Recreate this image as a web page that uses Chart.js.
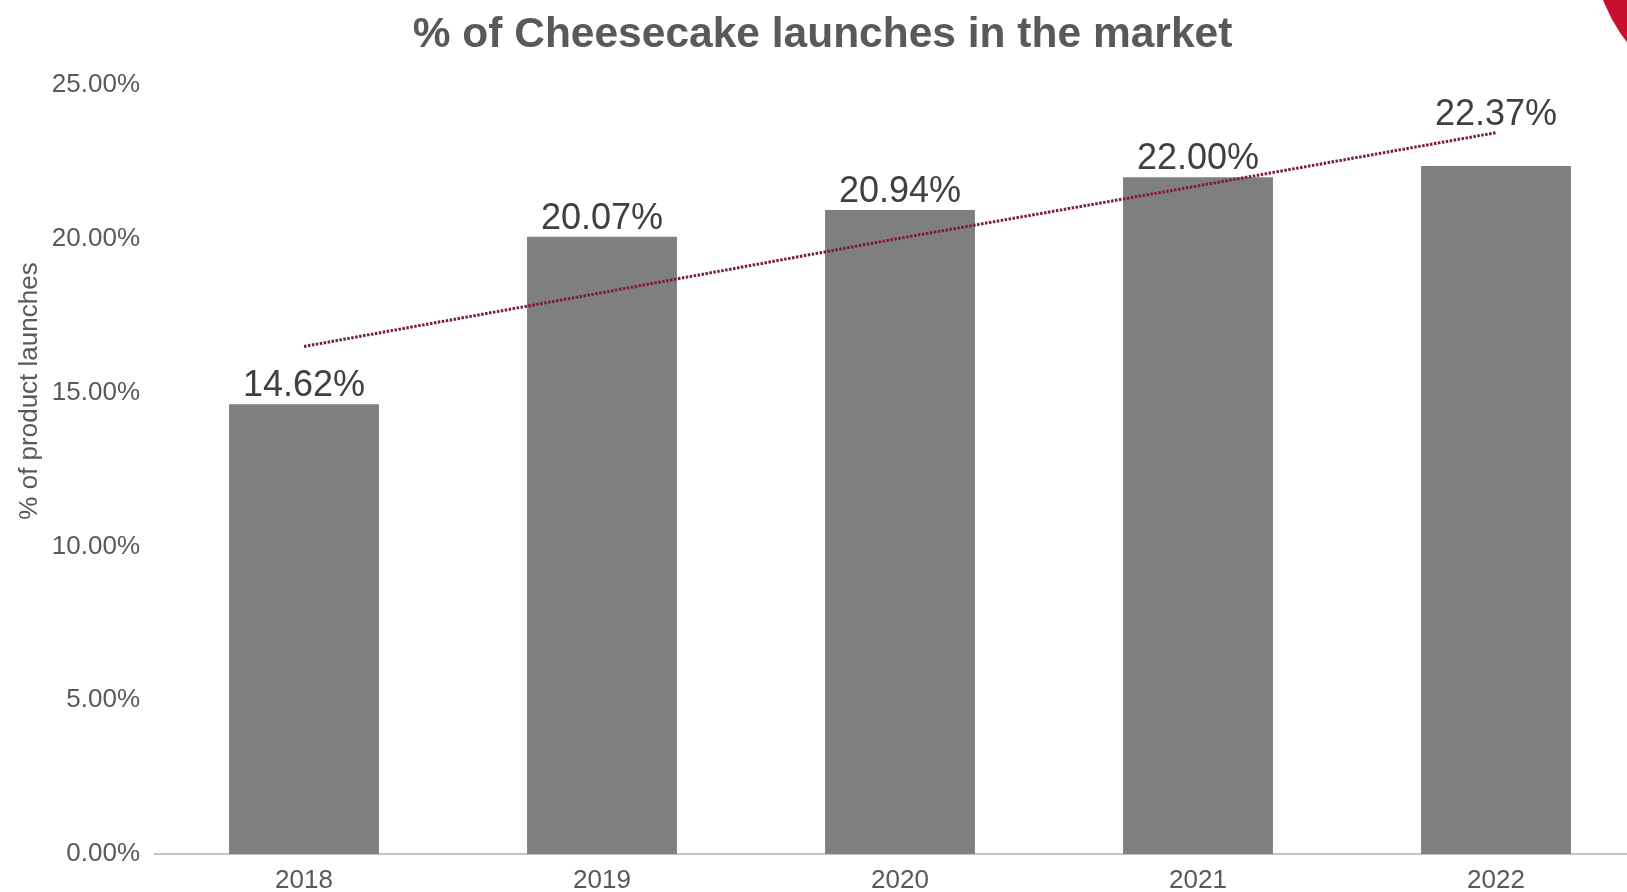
<!DOCTYPE html>
<html>
<head>
<meta charset="utf-8">
<script src="https://cdn.jsdelivr.net/npm/chart.js@4.4.1/dist/chart.umd.min.js"></script>
<style>
  html, body { margin: 0; padding: 0; background: #fff; overflow: hidden; }
  #wrap { position: relative; width: 1650px; height: 892px; }
  #corner {
    position: absolute; left: 1592px; top: -228px;
    width: 336px; height: 336px; border-radius: 50%;
    background: #c8102e;
  }
</style>
</head>
<body>
<div id="wrap">
  <canvas id="launchChart"></canvas>
  <div id="corner"></div>
</div>
<script>
  // Años y porcentajes
  const years = ['2018', '2019', '2020', '2021', '2022'];
  const launchShare = [14.62, 20.07, 20.94, 22.00, 22.37];
  // Línea de tendencia
  const trendShare = [16.50, 18.25, 20.02, 21.72, 23.45];
  const yTicks = [0, 5, 10, 15, 20, 25];

  const FONT = "'Liberation Sans', Arial, sans-serif";
  const TEXT = '#595959';

  // etiquetas de valor encima de cada barra
  const labelLift = [0, 0, 0, 0, 33];
  const valueLabels = {
    id: 'valueLabels',
    afterDatasetsDraw(chart) {
      const ctx = chart.ctx;
      const meta = chart.getDatasetMeta(1);
      ctx.save();
      ctx.font = '36px ' + FONT;
      ctx.fillStyle = '#404040';
      ctx.textAlign = 'center';
      ctx.textBaseline = 'alphabetic';
      meta.data.forEach((bar, i) => {
        ctx.fillText(launchShare[i].toFixed(2) + '%', bar.x, bar.y - 8 - labelLift[i]);
      });
      ctx.restore();
    }
  };

  // título del eje Y (no centrado en el original)
  const yTitle = {
    id: 'yTitle',
    afterDraw(chart) {
      const ctx = chart.ctx;
      ctx.save();
      ctx.translate(30, 391);
      ctx.rotate(-Math.PI / 2);
      ctx.font = '26px ' + FONT;
      ctx.fillStyle = TEXT;
      ctx.textAlign = 'center';
      ctx.textBaseline = 'middle';
      ctx.fillText('% of product launches', 0, 0);
      ctx.restore();
    }
  };

  const launchData = {
    labels: years,
    datasets: [{
        type: 'line',
        label: 'Trend',
        data: trendShare,
        borderColor: '#7a1f35',
        borderWidth: 3,
        borderDash: [2.5, 1.5],
        pointRadius: 0,
        fill: false,
        tension: 0,
        order: 0
    }, {
        type: 'bar',
        label: '% of product launches',
        data: launchShare,
        backgroundColor: '#7f7f7f',
        categoryPercentage: 1,
        barPercentage: 0.503,
        order: 1
    }]
  };

  const launchConfig = {
    data: launchData,
    options: {
        responsive: true,
        maintainAspectRatio: false,
        animation: false,
        layout: { padding: { left: 0, right: 5, top: 0, bottom: 0 } },
        plugins: {
            legend: { display: false },
            tooltip: { enabled: false },
            title: {
                display: true,
                text: '% of Cheesecake launches in the market',
                color: TEXT,
                font: { family: FONT, size: 42.5, weight: 'bold' },
                padding: { top: 10, bottom: 24 }
            }
        },
        scales: {
            x: {
                afterFit(scale) { scale.height = 38; },
                grid: { display: false, drawTicks: false },
                border: { color: '#c4c4c4', width: 2 },
                ticks: { color: TEXT, font: { family: FONT, size: 26 }, padding: 11 }
            },
            y: {
                min: 0,
                max: 25,
                afterBuildTicks(scale) {
                    scale.ticks = yTicks.map(v => ({ value: v }));
                },
                afterFit(scale) { scale.width = 155; },
                grid: { display: false, drawTicks: false },
                border: { display: false },
                ticks: {
                    color: TEXT,
                    font: { family: FONT, size: 26 },
                    padding: 15,
                    callback: v => v.toFixed(2) + '%'
                }
            }
        }
    },
    plugins: [valueLabels, yTitle]
  };

  const launchChart = new Chart(
    document.getElementById('launchChart'),
    launchConfig
  );
</script>
</body>
</html>
